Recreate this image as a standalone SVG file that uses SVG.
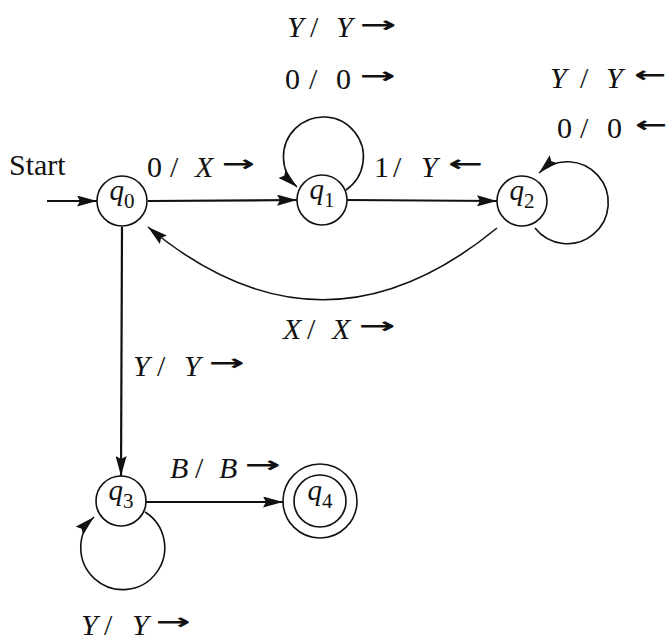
<svg xmlns="http://www.w3.org/2000/svg" width="672" height="640" viewBox="0 0 672 640">
<style>
text{font-family:"Liberation Serif","Times New Roman",serif;fill:#111;font-size:30px}
.i{font-style:italic}
.ar{font-family:"DejaVu Sans",sans-serif;font-weight:bold;font-size:22px}
.st{fill:none;stroke:#111;stroke-width:1.6}
.ed{fill:none;stroke:#111;stroke-width:2.2}
.nl{text-anchor:middle;font-size:29px}
.sub{font-size:21px}
</style>
<defs>
<marker id="ah" viewBox="0 0 20 11" refX="20" refY="5.5" markerWidth="20" markerHeight="11" markerUnits="userSpaceOnUse" orient="auto">
<path d="M0,0 L20,5.5 L0,11 L3,5.5 z" fill="#111"/>
</marker>
</defs>
<rect width="672" height="640" fill="#fff"/>
<g id="edges">
<line class="ed" x1="47" y1="201" x2="97" y2="201" marker-end="url(#ah)"/>
<line class="ed" x1="148" y1="201" x2="297" y2="200" marker-end="url(#ah)"/>
<line class="ed" x1="347" y1="200" x2="497" y2="201" marker-end="url(#ah)"/>
<line class="ed" x1="122" y1="227" x2="121" y2="476" marker-end="url(#ah)"/>
<line class="ed" x1="146" y1="502" x2="283" y2="502" marker-end="url(#ah)"/>
<path class="st" d="M497,228 Q322,372 148,227" marker-end="url(#ah)"/>
<path class="st" d="M346,190 A40,40 0 1 0 297,187" marker-end="url(#ah)"/>
<path class="st" d="M535,228 A41,41 0 1 0 539,173" marker-end="url(#ah)"/>
<path class="st" d="M145,512 A42,42 0 1 1 94,517" marker-end="url(#ah)"/>
</g>
<g id="labels">
<text x="9" y="175" font-size="29">Start</text>
<text y="37"><tspan class="i" x="287">Y</tspan><tspan x="310">/</tspan><tspan class="i" x="336">Y</tspan></text>
<text class="ar" transform="translate(360,32) scale(2,1)">→</text>
<text y="89"><tspan x="285">0</tspan><tspan x="309">/</tspan><tspan x="336">0</tspan></text>
<text class="ar" transform="translate(360,83) scale(1.95,1)">→</text>
<text y="88"><tspan class="i" x="550">Y</tspan><tspan x="580">/</tspan><tspan class="i" x="606">Y</tspan></text>
<text class="ar" transform="translate(634,82) scale(1.75,1)">←</text>
<text y="138"><tspan x="557">0</tspan><tspan x="580">/</tspan><tspan x="607">0</tspan></text>
<text class="ar" transform="translate(635,132) scale(1.75,1)">←</text>
<text y="177"><tspan x="147">0</tspan><tspan x="170">/</tspan><tspan class="i" x="195">X</tspan></text>
<text class="ar" transform="translate(222,171) scale(1.8,1)">→</text>
<text y="177"><tspan x="374">1</tspan><tspan x="393">/</tspan><tspan class="i" x="421">Y</tspan></text>
<text class="ar" transform="translate(448,171) scale(1.9,1)">←</text>
<text y="339"><tspan class="i" x="283">X</tspan><tspan x="307">/</tspan><tspan class="i" x="332">X</tspan></text>
<text class="ar" transform="translate(359,333) scale(2,1)">→</text>
<text y="376"><tspan class="i" x="133">Y</tspan><tspan x="157">/</tspan><tspan class="i" x="184">Y</tspan></text>
<text class="ar" transform="translate(209,370) scale(1.95,1)">→</text>
<text y="478"><tspan class="i" x="170">B</tspan><tspan x="195">/</tspan><tspan class="i" x="219">B</tspan></text>
<text class="ar" transform="translate(245,472) scale(1.95,1)">→</text>
<text y="635"><tspan class="i" x="81">Y</tspan><tspan x="104">/</tspan><tspan class="i" x="132">Y</tspan></text>
<text class="ar" transform="translate(156,629) scale(1.9,1)">→</text>
</g>
<g id="q0"><circle class="st" cx="122" cy="201" r="25"/><text class="nl" x="122" y="200"><tspan class="i">q</tspan><tspan class="sub" dy="8">0</tspan></text></g>
<g id="q1"><circle class="st" cx="322" cy="200" r="25"/><text class="nl" x="322" y="199"><tspan class="i">q</tspan><tspan class="sub" dy="8">1</tspan></text></g>
<g id="q2"><circle class="st" cx="522" cy="201" r="25"/><text class="nl" x="522" y="200"><tspan class="i">q</tspan><tspan class="sub" dy="8">2</tspan></text></g>
<g id="q3"><circle class="st" cx="121" cy="501" r="25"/><text class="nl" x="121" y="500"><tspan class="i">q</tspan><tspan class="sub" dy="8">3</tspan></text></g>
<g id="q4"><circle class="st" cx="320" cy="501" r="37"/><circle class="st" cx="320" cy="501" r="26"/><text class="nl" x="320" y="500"><tspan class="i">q</tspan><tspan class="sub" dy="8">4</tspan></text></g>
</svg>
